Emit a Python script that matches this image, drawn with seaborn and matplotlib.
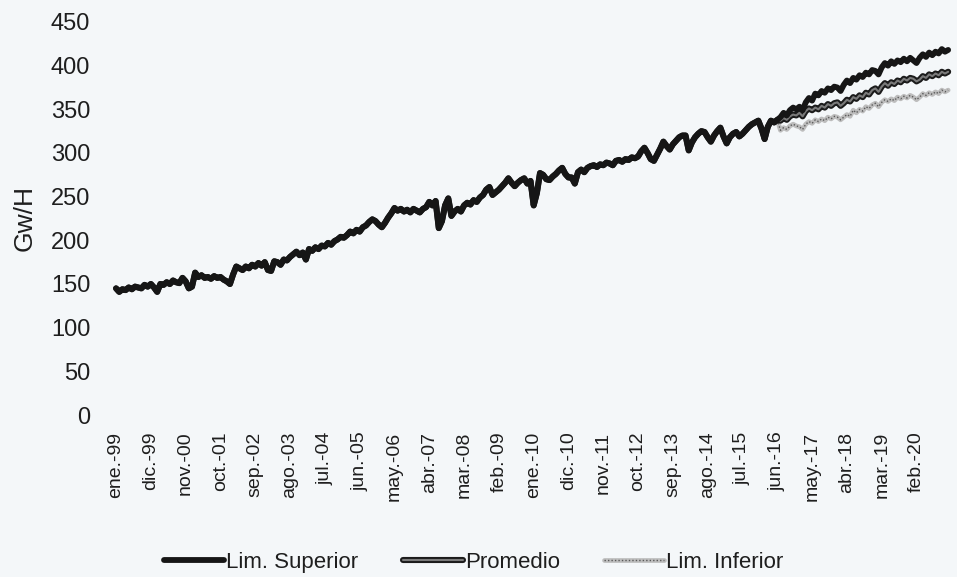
import pandas as pd
import matplotlib
matplotlib.use("Agg")
import matplotlib.pyplot as plt
import matplotlib.patheffects as pe
import seaborn as sns

# demanda mensual historica, ene-1999 a jun-2016 (Gw/H)
historico = [
    145, 141, 144, 143, 146, 144, 147, 146, 145, 149, 147, 150,  # 1999
    146, 141, 150, 149, 152, 150, 154, 152, 151, 157, 153, 145,  # 2000
    147, 163, 158, 160, 157, 158, 156, 159, 157, 158, 155, 153,  # 2001
    150, 161, 170, 168, 166, 170, 168, 172, 170, 174, 171, 175,  # 2002
    166, 165, 176, 175, 172, 178, 177, 181, 184, 187, 183, 186,  # 2003
    178, 190, 188, 192, 190, 194, 193, 197, 195, 199, 201, 204,  # 2004
    203, 206, 210, 208, 212, 210, 215, 217, 221, 224, 222, 218,  # 2005
    215, 220, 226, 231, 237, 234, 236, 233, 235, 232, 236, 234,  # 2006
    232, 236, 238, 244, 240, 245, 214, 222, 240, 248, 228, 233,  # 2007
    236, 233, 240, 243, 241, 246, 244, 249, 252, 258, 261, 252,  # 2008
    255, 258, 262, 266, 271, 266, 262, 266, 269, 271, 265, 268,  # 2009
    240, 254, 277, 275, 270, 269, 273, 276, 280, 283, 276, 272,  # 2010
    272, 265, 278, 281, 278, 283, 285, 286, 284, 287, 286, 289,  # 2011
    288, 286, 291, 292, 290, 293, 292, 295, 294, 296, 302, 306,  # 2012
    300, 293, 291, 298, 305, 313, 308, 304, 310, 314, 318, 320,  # 2013
    320, 303, 312, 318, 322, 325, 324, 318, 313, 320, 325, 329,  # 2014
    319, 311, 318, 322, 324, 319, 322, 326, 330, 333, 335, 337,  # 2015
    328, 316, 330, 337, 335, 338,                                # 2016
]

# pronostico jul-2016 a dic-2020
lim_superior = [
    341, 346, 343, 349, 352, 350,
    353, 349, 358, 363, 360, 368, 366, 371, 369, 374, 372, 376,
    375, 371, 378, 383, 380, 386, 384, 389, 387, 392, 390, 395,
    394, 390, 398, 403, 400, 405, 402, 406, 404, 408, 405, 409,
    406, 403, 409, 413, 410, 415, 412, 416, 414, 419, 416, 418,
]
promedio = [
    337, 340, 338, 342, 344, 343,
    346, 342, 348, 351, 349, 352, 350, 354, 352, 356, 354, 357,
    358, 354, 357, 361, 359, 364, 362, 366, 364, 369, 367, 372,
    374, 370, 376, 380, 377, 381, 379, 383, 381, 385, 383, 386,
    385, 382, 384, 388, 386, 390, 388, 391, 389, 393, 391, 393,
]
lim_inferior = [
    326, 329, 327, 331, 333, 331,
    330, 327, 333, 336, 334, 338, 336, 339, 337, 341, 339, 342,
    341, 338, 341, 344, 342, 349, 346, 350, 348, 353, 351, 355,
    357, 353, 358, 361, 359, 362, 360, 364, 362, 365, 363, 366,
    364, 361, 364, 368, 366, 369, 367, 370, 368, 372, 370, 372,
]

etiquetas = ["ene.-99", "dic.-99", "nov.-00", "oct.-01", "sep.-02", "ago.-03",
             "jul.-04", "jun.-05", "may.-06", "abr.-07", "mar.-08", "feb.-09",
             "ene.-10", "dic.-10", "nov.-11", "oct.-12", "sep.-13", "ago.-14",
             "jul.-15", "jun.-16", "may.-17", "abr.-18", "mar.-19", "feb.-20"]
paso_etiquetas = 11

series = {
    "Lim. Superior": historico + lim_superior,
    "Promedio": historico + promedio,
    "Lim. Inferior": historico + lim_inferior,
}
df = pd.concat(
    [pd.DataFrame({"mes": range(len(v)), "valor": v, "serie": k}) for k, v in series.items()],
    ignore_index=True,
)

sns.set_theme(style="white")
plt.rcParams["font.family"] = ["Liberation Sans", "DejaVu Sans"]
fondo = "#f4f7f9"
texto = "#1e1e1e"

fig = plt.figure(figsize=(9.57, 5.77), dpi=100, facecolor=fondo)
ax = fig.add_axes([111 / 957, 162 / 577, 846 / 957, 393 / 577])
ax.set_facecolor(fondo)

# inferior primero: gris claro con punteado oscuro encima
inf = df[df.serie == "Lim. Inferior"]
sns.lineplot(data=inf, x="mes", y="valor", color="#bdbdbd", linewidth=3.4, ax=ax, legend=False)
l_inf = ax.lines[-1]
sns.lineplot(data=inf, x="mes", y="valor", color="#5a5a5a", linewidth=1.0,
             linestyle=(0, (1, 1.5)), ax=ax, legend=False)
l_inf_dots = ax.lines[-1]

sns.lineplot(data=df[df.serie == "Promedio"], x="mes", y="valor",
             color="#7a7a7a", linewidth=1.5, ax=ax, legend=False)
l_prom = ax.lines[-1]
l_prom.set_path_effects([pe.Stroke(linewidth=4.4, foreground="#1b1b1b"), pe.Normal()])

sns.lineplot(data=df[df.serie == "Lim. Superior"], x="mes", y="valor",
             color="#161616", linewidth=4.2, ax=ax, legend=False)
l_sup = ax.lines[-1]

ax.set_xlim(-1.6, 265.8)
ax.set_ylim(0, 450)
ax.set_yticks(range(0, 451, 50))
ax.set_xticks(range(0, paso_etiquetas * len(etiquetas), paso_etiquetas))
ax.set_xticklabels(etiquetas, rotation=90, fontsize=14, color=texto)
ax.tick_params(axis="x", length=0, pad=12)
ax.tick_params(axis="y", length=0, pad=15, labelsize=17, labelcolor=texto)
for s in ax.spines.values():
    s.set_visible(False)

ax.set_xlabel("")
ax.set_ylabel("Gw/H", fontsize=19, color=texto)
ax.yaxis.set_label_coords(-0.088, 0.5)

fig.legend([l_sup, l_prom, (l_inf, l_inf_dots)],
           ["Lim. Superior", "Promedio", "Lim. Inferior"],
           loc="center", bbox_to_anchor=(0.495, 0.025), ncol=3, frameon=False,
           fontsize=16, handlelength=2.7, handletextpad=0.1, columnspacing=2.0,
           labelcolor=texto)

fig.savefig("out.png", dpi=100, facecolor=fondo)
